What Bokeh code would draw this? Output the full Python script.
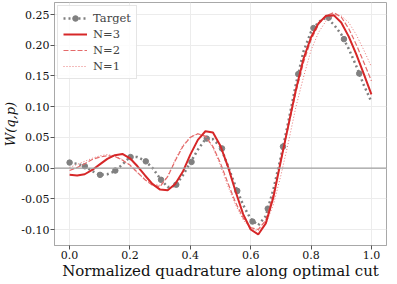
from bokeh.plotting import figure
from bokeh.models import Span, FixedTicker, PrintfTickFormatter, Legend, LegendItem
from bokeh.embed import file_html
from bokeh.resources import INLINE

# x positions of the sampled curves
xq = [0.000, 0.025, 0.050, 0.075, 0.100, 0.125, 0.150, 0.175, 0.200, 0.225,
      0.250, 0.275, 0.300, 0.325, 0.350, 0.375, 0.400, 0.425, 0.450, 0.475,
      0.500, 0.525, 0.550, 0.575, 0.600, 0.625, 0.650, 0.675, 0.700, 0.725,
      0.750, 0.775, 0.800, 0.825, 0.850, 0.875, 0.900, 0.925, 0.950, 0.975, 1.000]

target = [0.009, 0.007, 0.003, -0.005, -0.011, -0.010, -0.005, 0.006, 0.018, 0.018,
          0.012, 0.000, -0.017, -0.031, -0.029, -0.012, 0.009, 0.030, 0.047, 0.047,
          0.035, 0.003, -0.030, -0.060, -0.083, -0.093, -0.078, -0.035, 0.018, 0.076,
          0.137, 0.190, 0.222, 0.238, 0.245, 0.234, 0.218, 0.194, 0.166, 0.135, 0.108]

# marker positions on the target curve
xm = [0.000, 0.0505, 0.101, 0.1515, 0.202, 0.2525, 0.303, 0.3535, 0.404, 0.4545,
      0.505, 0.5556, 0.606, 0.6566, 0.707, 0.7576, 0.808, 0.8586, 0.909, 0.9596]
target_m = [0.009, 0.003, -0.011, -0.004, 0.018, 0.011, -0.019, -0.027, 0.010, 0.048,
            0.032, -0.037, -0.087, -0.066, 0.035, 0.153, 0.228, 0.245, 0.210, 0.154]

n3 = [-0.011, -0.012, -0.010, -0.003, 0.006, 0.015, 0.021, 0.023, 0.016, 0.003,
      -0.012, -0.026, -0.035, -0.036, -0.026, -0.006, 0.022, 0.046, 0.060, 0.058,
      0.036, 0.002, -0.038, -0.075, -0.100, -0.108, -0.090, -0.048, 0.012, 0.070,
      0.128, 0.178, 0.213, 0.236, 0.248, 0.249, 0.237, 0.214, 0.185, 0.153, 0.120]

n2 = [-0.004, 0.001, 0.007, 0.014, 0.018, 0.020, 0.019, 0.013, 0.005, -0.007,
      -0.019, -0.028, -0.030, -0.014, 0.012, 0.035, 0.050, 0.056, 0.052, 0.035,
      0.008, -0.025, -0.056, -0.081, -0.097, -0.100, -0.085, -0.043, 0.012, 0.068,
      0.124, 0.172, 0.209, 0.234, 0.248, 0.253, 0.246, 0.227, 0.201, 0.172, 0.142]

n1 = [0.001, 0.006, 0.011, 0.016, 0.020, 0.022, 0.020, 0.014, 0.004, -0.008,
      -0.019, -0.026, -0.028, -0.013, 0.014, 0.037, 0.051, 0.056, 0.051, 0.033,
      0.004, -0.030, -0.060, -0.084, -0.099, -0.102, -0.091, -0.060, -0.012, 0.042,
      0.100, 0.148, 0.192, 0.221, 0.240, 0.249, 0.248, 0.237, 0.217, 0.192, 0.165]

x_ticks = [0.0, 0.2, 0.4, 0.6, 0.8, 1.0]
y_ticks = [-0.10, -0.05, 0.00, 0.05, 0.10, 0.15, 0.20, 0.25]

FONT = "DejaVu Serif"
RED = "#d62728"

p = figure(width=389, height=282, x_range=(-0.05, 1.05), y_range=(-0.126, 0.2696),
           output_backend="svg", toolbar_location=None,
           min_border_left=45, min_border_right=3, min_border_top=2, min_border_bottom=30)

p.add_layout(Span(location=0, dimension="width", line_color="#a0a0a0", line_width=1.2))

r_t = p.line(xq, target, line_color="#808080", line_width=2.5, line_dash="2 3")
r_tm = p.scatter(xm, target_m, size=5.5, fill_color="#808080", line_color="#808080")
r1 = p.line(xq, n1, line_color="#e87878", line_width=1, line_dash="1 2")
r2 = p.line(xq, n2, line_color="#e46a6a", line_width=1.2, line_dash="5 2")
r3 = p.line(xq, n3, line_color=RED, line_width=2)

legend = Legend(items=[
    LegendItem(label="Target", renderers=[r_t, r_tm]),
    LegendItem(label="N=3", renderers=[r3]),
    LegendItem(label="N=2", renderers=[r2]),
    LegendItem(label="N=1", renderers=[r1]),
], location="top_left")
legend.label_text_font = FONT
legend.label_text_font_size = "11.5px"
legend.glyph_width = 24
legend.glyph_height = 14
legend.label_height = 14
legend.spacing = 2
legend.padding = 5
legend.margin = 3
legend.label_standoff = 6
legend.border_line_color = "#cccccc"
legend.background_fill_alpha = 0.85
p.add_layout(legend)

p.xaxis.ticker = FixedTicker(ticks=x_ticks)
p.yaxis.ticker = FixedTicker(ticks=y_ticks)
p.xaxis.formatter = PrintfTickFormatter(format="%.1f")
p.yaxis.formatter = PrintfTickFormatter(format="%.2f")

for ax in (p.xaxis[0], p.yaxis[0]):
    ax.axis_line_color = "#a8a8a8"
    ax.major_tick_line_color = "#555555"
    ax.major_tick_out = 4
    ax.major_tick_in = 0
    ax.minor_tick_line_color = None
    ax.major_label_text_font = FONT
    ax.major_label_text_font_size = "11px"
    ax.major_label_text_color = "#111111"
    ax.major_label_standoff = 1
    ax.axis_label_text_font = FONT
    ax.axis_label_text_color = "#111111"
    ax.axis_label_standoff = 0

p.xaxis.axis_label = "Normalized quadrature along optimal cut"
p.xaxis.axis_label_text_font_size = "15px"
p.xaxis.axis_label_text_font_style = "normal"
p.yaxis.axis_label = "W(q,p)"
p.yaxis.axis_label_text_font_size = "13px"
p.yaxis.axis_label_text_font_style = "italic"

p.grid.grid_line_color = "#ececec"
p.grid.grid_line_width = 1
p.outline_line_color = "#a8a8a8"

open("out.html", "w").write(file_html(p, INLINE))
